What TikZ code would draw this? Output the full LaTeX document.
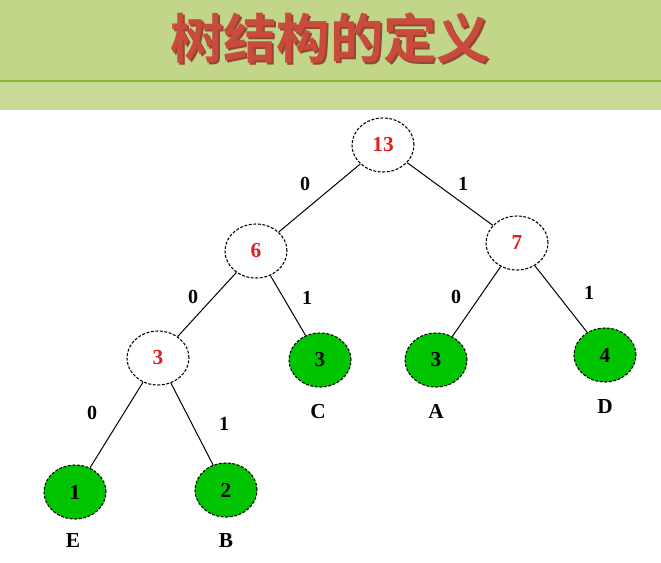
\documentclass[tikz,border=0pt]{standalone}
\usepackage{fontspec}
\usetikzlibrary{shapes.geometric}
\setmainfont{Liberation Serif}
\newfontfamily\cjk{Noto Sans CJK SC Bold}
\definecolor{bandA}{RGB}{194,214,138}
\definecolor{bandB}{RGB}{200,218,150}
\definecolor{bandline}{RGB}{140,180,60}
\definecolor{titlered}{RGB}{200,75,60}
\definecolor{titleshadow}{RGB}{150,70,50}
\definecolor{leafgreen}{RGB}{0,196,0}
\definecolor{numred}{RGB}{225,30,30}
\begin{document}
\begin{tikzpicture}[x=0.75pt,y=-0.75pt,
  tnode/.style={ellipse,draw=black,dash pattern=on 2.2pt off 1.2pt,line width=0.8pt,minimum width=46.5pt,minimum height=40.5pt,inner sep=0pt,font=\bfseries\fontsize{16}{16}\selectfont},
  inner/.style={tnode,fill=white,text=numred},
  leaf/.style={tnode,fill=leafgreen,text=black},
  elab/.style={font=\bfseries\fontsize{15}{15}\selectfont},
  nlab/.style={font=\bfseries\fontsize{16}{16}\selectfont},
  edge/.style={draw=black,line width=0.75pt}]
\useasboundingbox (0,0) rectangle (661,562);
\fill[white] (0,0) rectangle (661,562);
\fill[bandA] (0,0) rectangle (661,110);
\fill[bandB] (0,82) rectangle (661,110);
\draw[bandline,line width=1.5pt] (0,81) -- (661,81);
\node[font=\cjk\fontsize{40}{40}\selectfont,text=titleshadow] (titlesh) at (332,40) {树结构的定义};
\node[font=\cjk\fontsize{40}{40}\selectfont,text=titlered] (title) at (330,38) {树结构的定义};
\node[inner] (n13) at (383,145) {13};
\node[inner] (n6) at (256,251) {6};
\node[inner] (n7) at (517,243) {7};
\node[inner] (n3) at (158,358) {3};
\node[leaf] (c) at (320,360) {3};
\node[leaf] (a) at (436,360) {3};
\node[leaf] (d) at (605,355) {4};
\node[leaf] (e) at (75,492) {1};
\node[leaf] (b) at (226,490) {2};
\draw[edge] (n13) -- (n6);
\draw[edge] (n13) -- (n7);
\draw[edge] (n6) -- (n3);
\draw[edge] (n6) -- (c);
\draw[edge] (n7) -- (a);
\draw[edge] (n7) -- (d);
\draw[edge] (n3) -- (e);
\draw[edge] (n3) -- (b);
\node[elab] (l1) at (305,184) {0};
\node[elab] (l2) at (463,184) {1};
\node[elab] (l3) at (193,297) {0};
\node[elab] (l4) at (307,298) {1};
\node[elab] (l5) at (456,297) {0};
\node[elab] (l6) at (589,293) {1};
\node[elab] (l7) at (92,413) {0};
\node[elab] (l8) at (224,424) {1};
\node[nlab] (tc) at (318,412) {C};
\node[nlab] (ta) at (436,411) {A};
\node[nlab] (td) at (605,407) {D};
\node[nlab] (te) at (73,541) {E};
\node[nlab] (tb) at (226,541) {B};
\end{tikzpicture}
\end{document}
